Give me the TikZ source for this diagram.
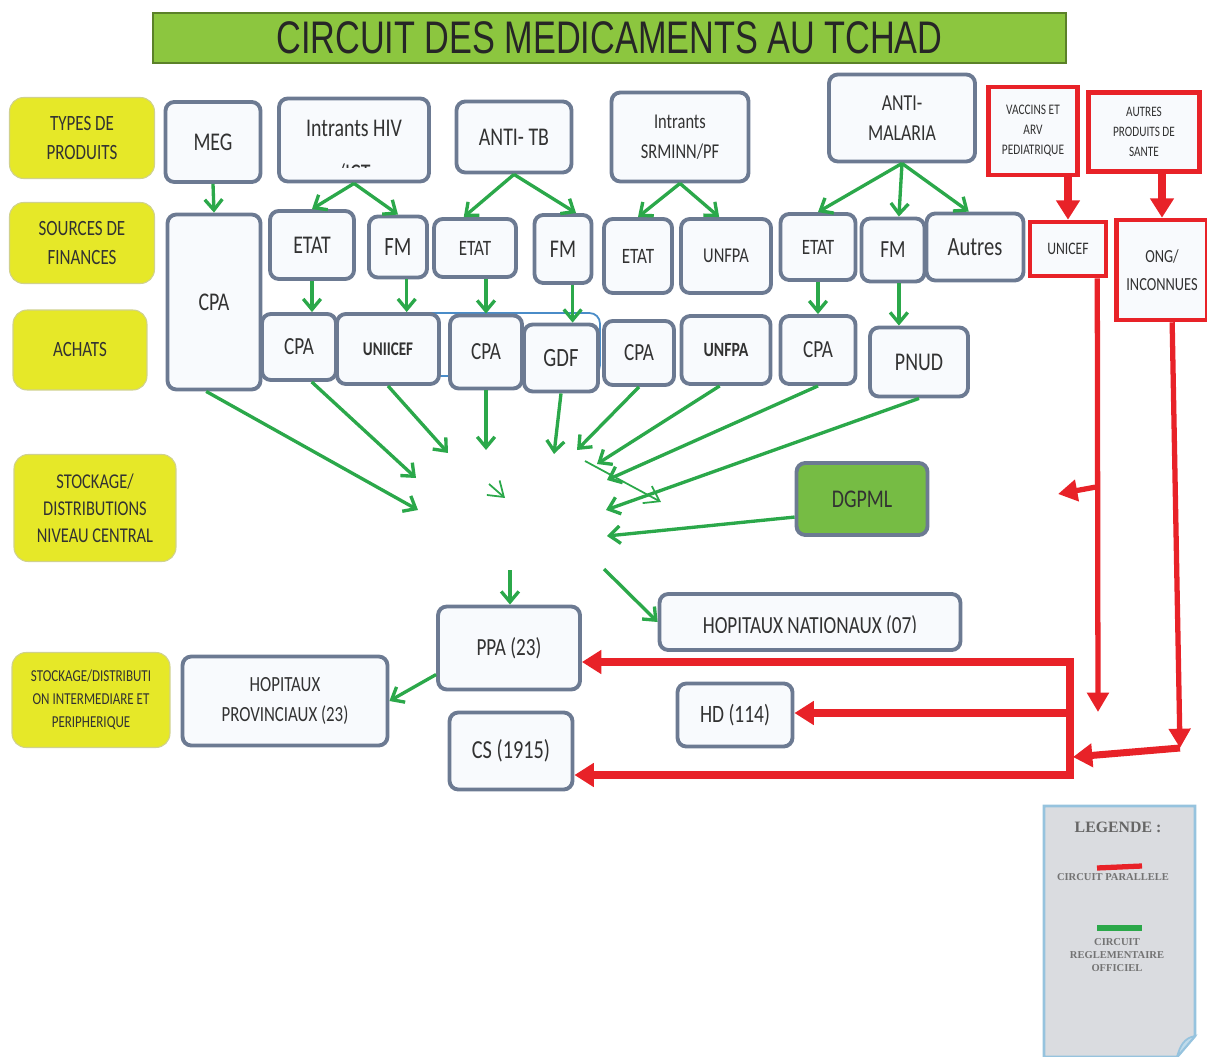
\documentclass[tikz,border=0pt]{standalone}
\usepackage{fontspec}
\setmainfont{Carlito}[FakeStretch=0.78]
\newfontfamily\titlefont{Liberation Sans}[FakeStretch=0.75]
\newfontfamily\legendfont{Liberation Serif}
\usetikzlibrary{arrows.meta, positioning}
\definecolor{jaune}{RGB}{230,232,40}
\definecolor{bord}{RGB}{108,122,146}
\definecolor{fond}{RGB}{248,250,253}
\definecolor{vert}{RGB}{43,168,74}
\definecolor{rouge}{RGB}{232,34,40}
\definecolor{vertdg}{RGB}{118,188,68}
\definecolor{vertitre}{RGB}{140,198,63}
\definecolor{bleu}{RGB}{74,140,200}
\definecolor{gris}{RGB}{218,220,224}
\definecolor{bleuleg}{RGB}{150,195,222}
\definecolor{texte}{RGB}{50,50,50}
\newcommand{\fsz}[2]{\fontsize{#1}{#2}\selectfont}

\begin{document}
\begin{tikzpicture}[x=0.02cm, y=-0.02cm,
        boite/.style={draw=bord, fill=fond, line width=2.2pt, rounded corners=5pt, align=center, inner sep=1pt, text=texte},
        etiq/.style={draw=jaune!70!black!50, fill=jaune, line width=0.6pt, rounded corners=8pt, align=center, inner sep=1pt, text=texte},
        rboite/.style={draw=rouge, fill=fond, line width=2.6pt, align=center, inner sep=1pt, text=texte},
        garr/.style={draw=vert, line width=1.9pt, -{Straight Barb[length=6pt,width=10pt]}},
        gfin/.style={draw=vert, line width=1pt, -{Straight Barb[length=8pt,width=11pt]}},
        rarr/.style={draw=rouge, line width=4pt, -{Triangle[length=11pt,width=13pt]}},
        rvert/.style={draw=rouge, line width=3pt, -{Triangle[length=11pt,width=12pt]}},
        rligne/.style={draw=rouge, line width=4pt}
    ]
    \useasboundingbox (0,0) rectangle (1207,1057);

    \node[draw=vertitre!65!black, fill=vertitre, line width=0.8pt, minimum width=18.26cm, minimum height=1cm,
        font=\titlefont\fsz{26}{28}, text=black!85] (titre) at (609.5,38) {CIRCUIT DES MEDICAMENTS AU TCHAD};

    \node[etiq, minimum width=2.9cm, minimum height=1.62cm, font=\fsz{12.4}{17}] (types) at (82,138) {TYPES DE\\PRODUITS};
    \node[etiq, minimum width=2.9cm, minimum height=1.62cm, font=\fsz{12.4}{17}] (sources) at (82,243) {SOURCES DE\\FINANCES};
    \node[etiq, minimum width=2.68cm, minimum height=1.6cm, font=\fsz{12.4}{17}] (achats) at (80,350) {ACHATS};
    \node[etiq, minimum width=3.24cm, minimum height=2.14cm, font=\fsz{12}{15.5}] (central) at (95,508) {STOCKAGE/\\DISTRIBUTIONS\\NIVEAU CENTRAL};
    \node[etiq, minimum width=3.16cm, minimum height=1.9cm, font=\fsz{9.5}{13}] (periph) at (91,700) {STOCKAGE/DISTRIBUTI\\ON INTERMEDIARE ET\\PERIPHERIQUE};

    \draw[bleu, line width=1pt, rounded corners=6pt] (400,313) rectangle (600,376);

    \node[boite, minimum width=1.9cm, minimum height=1.6cm, font=\fsz{14.5}{17}] (meg) at (213,142) {MEG};
    \node[boite, minimum width=3cm, minimum height=1.66cm, font=\fsz{14.5}{17}] (hiv) at (354,140) {Intrants HIV\\[-4pt]};
    \begin{scope}
        \clip (290,150) rectangle (420,168);
        \node[font=\fsz{14.5}{17}, text=texte] (ict) at (354,173) {/ICT};
    \end{scope}
    \node[boite, minimum width=2.3cm, minimum height=1.42cm, font=\fsz{14.5}{17}] (tb) at (514,137) {ANTI- TB};
    \node[boite, minimum width=2.74cm, minimum height=1.78cm, font=\fsz{12}{17}] (sr) at (680,137) {Intrants\\SRMINN/PF};
    \node[boite, minimum width=2.92cm, minimum height=1.74cm, font=\fsz{13}{17}] (mal) at (902,118) {ANTI-\\MALARIA};
    \node[rboite, minimum width=1.78cm, minimum height=1.76cm, font=\fsz{8.3}{11.4}] (vac) at (1033,131) {VACCINS ET\\ARV\\PEDIATRIQUE};
    \node[rboite, minimum width=2.22cm, minimum height=1.58cm, font=\fsz{8.2}{11.4}] (aut) at (1144,132) {AUTRES\\PRODUITS DE\\SANTE};

    \node[boite, minimum width=1.86cm, minimum height=3.5cm, font=\fsz{14.5}{17}] (grandcpa) at (214,302) {CPA};
    \node[boite, minimum width=1.68cm, minimum height=1.36cm, font=\fsz{14.5}{17}] (etat1) at (312,245) {ETAT};
    \node[boite, minimum width=1.16cm, minimum height=1.22cm, font=\fsz{15}{17}] (fm1) at (398,247) {FM};
    \node[boite, minimum width=1.64cm, minimum height=1.16cm, font=\fsz{12.5}{15}] (etat2) at (475,248) {ETAT};
    \node[boite, minimum width=1.14cm, minimum height=1.36cm, font=\fsz{14.5}{17}] (fm2) at (563,249) {FM};
    \node[boite, minimum width=1.36cm, minimum height=1.48cm, font=\fsz{12.5}{15}] (etat3) at (638,256) {ETAT};
    \node[boite, minimum width=1.8cm, minimum height=1.48cm, font=\fsz{12}{15}] (unfpa1) at (726,256) {UNFPA};
    \node[boite, minimum width=1.5cm, minimum height=1.32cm, font=\fsz{12.5}{15}] (etat4) at (818,247) {ETAT};
    \node[boite, minimum width=1.26cm, minimum height=1.26cm, font=\fsz{14}{17}] (fm4) at (893,250) {FM};
    \node[boite, minimum width=1.94cm, minimum height=1.34cm, font=\fsz{15}{17}] (autres) at (975,247) {Autres};
    \node[rboite, minimum width=1.52cm, minimum height=1.08cm, font=\fsz{10}{12}] (unicef) at (1068,249) {UNICEF};
    \node[rboite, minimum width=1.82cm, minimum height=2cm, font=\fsz{10.5}{16}] (ong) at (1162,270) {ONG/\\INCONNUES};

    \node[boite, minimum width=1.48cm, minimum height=1.32cm, font=\fsz{14}{17}] (cpa1) at (299,347) {CPA};
    \node[boite, minimum width=2.04cm, minimum height=1.4cm, font=\bfseries\fsz{11}{14}] (uniicef) at (388,349) {UNIICEF};
    \node[boite, minimum width=1.44cm, minimum height=1.46cm, font=\fsz{14}{17}] (cpa2) at (486,352) {CPA};
    \node[boite, minimum width=1.48cm, minimum height=1.34cm, font=\fsz{15}{17}] (gdf) at (561,358) {GDF};
    \node[boite, minimum width=1.4cm, minimum height=1.28cm, font=\fsz{14}{17}] (cpa3) at (639,353) {CPA};
    \node[boite, minimum width=1.78cm, minimum height=1.36cm, font=\bfseries\fsz{11.5}{14}] (unfpa2) at (726,350) {UNFPA};
    \node[boite, minimum width=1.5cm, minimum height=1.36cm, font=\fsz{14}{17}] (cpa4) at (818,350) {CPA};
    \node[boite, minimum width=1.96cm, minimum height=1.38cm, font=\fsz{14.5}{17}] (pnud) at (919,362) {PNUD};

    \node[boite, fill=vertdg, minimum width=2.62cm, minimum height=1.44cm, font=\fsz{14.5}{17}] (dgpml) at (862,499) {DGPML};
    \node[boite, minimum width=6.02cm, minimum height=1.12cm] (hn) at (810,622) {};
    \begin{scope}
        \clip (670,600) rectangle (950,632);
        \node[font=\fsz{14}{17}, text=texte] (hntexte) at (810,626) {HOPITAUX NATIONAUX (07)};
    \end{scope}
    \node[boite, minimum width=2.84cm, minimum height=1.66cm, font=\fsz{14}{17}] (ppa) at (509,648) {PPA (23)};
    \node[boite, minimum width=4.1cm, minimum height=1.78cm, font=\fsz{12.3}{17}] (hp) at (285,701) {HOPITAUX\\PROVINCIAUX (23)};
    \node[boite, minimum width=2.3cm, minimum height=1.26cm, font=\fsz{14.2}{17}] (hd) at (735,715) {HD (114)};
    \node[boite, minimum width=2.46cm, minimum height=1.54cm, font=\fsz{14.8}{17}] (cs) at (511,751) {CS (1915)};

    \draw[garr] (meg.south) -- (grandcpa.north);
    \draw[garr] (hiv.south) -- (etat1.north);
    \draw[garr] (hiv.south) -- (fm1.north);
    \draw[garr] (tb.south) -- (etat2.110);
    \draw[garr] (tb.south) -- (fm2.70);
    \draw[garr] (sr.south) -- (etat3.north);
    \draw[garr] (sr.south) -- (unfpa1.100);
    \draw[garr] (mal.south) -- (etat4.north);
    \draw[garr] (mal.south) -- (fm4.80);
    \draw[garr] (mal.south) -- (autres.100);

    \draw[garr] (etat1.south) -- (etat1.south |- cpa1.north);
    \draw[garr] (fm1.-75) -- (fm1.-75 |- uniicef.north);
    \draw[garr] (cpa2.north |- etat2.south) -- (cpa2.north);
    \draw[garr] (fm2.-75) -- (fm2.-75 |- gdf.north);
    \draw[garr] (etat4.south) -- (cpa4.north);
    \draw[garr] (fm4.-80) -- (fm4.-80 |- pnud.north);

    \coordinate (c1) at (418,510);
    \coordinate (c2) at (416,478);
    \coordinate (c3) at (448,453);
    \coordinate (c4) at (486,450);
    \coordinate (c5) at (554,454);
    \coordinate (c6) at (577,450);
    \coordinate (c7) at (597,464);
    \coordinate (c8) at (607,480);
    \coordinate (c9) at (606,510);
    \coordinate (c10) at (607,536);
    \draw[garr] (grandcpa.-95) -- (c1);
    \draw[garr] (cpa1.-70) -- (c2);
    \draw[garr] (uniicef.south) -- (c3);
    \draw[garr] (cpa2.south) -- (c4);
    \draw[garr] (gdf.south) -- (c5);
    \draw[garr] (cpa3.south) -- (c6);
    \draw[garr] (unfpa2.-100) -- (c7);
    \draw[garr] (cpa4.south) -- (c8);
    \draw[garr] (pnud.south) -- (c9);
    \draw[garr] (dgpml.-165) -- (c10);

    \coordinate (f1) at (489,484);
    \coordinate (f1b) at (505,498);
    \coordinate (f2) at (585,461);
    \coordinate (f2b) at (661,502);
    \draw[gfin] (f1) -- (f1b);
    \draw[gfin] (f2) -- (f2b);

    \coordinate (d1) at (510,570);
    \coordinate (d2) at (604,569);
    \draw[garr] (d1) -- (d1 |- ppa.north);
    \draw[garr] (d2) -- (hn.west);
    \draw[garr] (ppa.-160) -- (hp.east);

    \draw[rarr] (unicef.north |- vac.south) -- (unicef.north);
    \draw[rarr] (ong.north |- aut.south) -- (ong.north);
    \coordinate (r1) at (1098,712);
    \coordinate (r2) at (1096,487);
    \coordinate (r2b) at (1058,494);
    \coordinate (r3) at (1180,748);
    \coordinate (r4) at (1073,757);
    \draw[rvert] (unicef.-45) -- (r1);
    \draw[rvert] (r2) -- (r2b);
    \draw[rvert] (ong.-79) -- (r3);
    \draw[rarr] (r3) -- (r4);

    \coordinate (b1) at (1070,662);
    \coordinate (b2) at (1070,713);
    \coordinate (b3) at (1070,775);
    \draw[rligne] ([yshift=2pt]b1) -- ([yshift=-2pt]b3);
    \draw[rarr] (b1) -- (b1 -| ppa.east);
    \draw[rarr] (b2) -- (b2 -| hd.east);
    \draw[rarr] (b3) -- (b3 -| cs.east);

    \filldraw[fill=gris, draw=bleuleg, line width=1.5pt] (1044,806) -- (1195,806) -- (1195,1036) -- (1177,1057) -- (1044,1057) -- cycle;
    \filldraw[fill=bleuleg!60, draw=bleuleg, line width=1pt] (1195,1036) .. controls (1184,1038) and (1180,1046) .. (1177,1057) -- cycle;
    \node[font=\legendfont\bfseries\fsz{9}{10}, text=black!60] (legende) at (1118,827) {LEGENDE :};
    \node[font=\legendfont\bfseries\fsz{6}{7}, text=black!55] (parallele) at (1113,877) {CIRCUIT PARALLELE};
    \draw[rouge, line width=3pt] (1097,868) -- (1142,866);
    \draw[vert, line width=3pt] (1097,928) -- (1142,928);
    \node[font=\legendfont\bfseries\fsz{6}{7.6}, text=black!55, align=center] (officiel) at (1117,955) {CIRCUIT\\REGLEMENTAIRE\\OFFICIEL};
\end{tikzpicture}
\end{document}
